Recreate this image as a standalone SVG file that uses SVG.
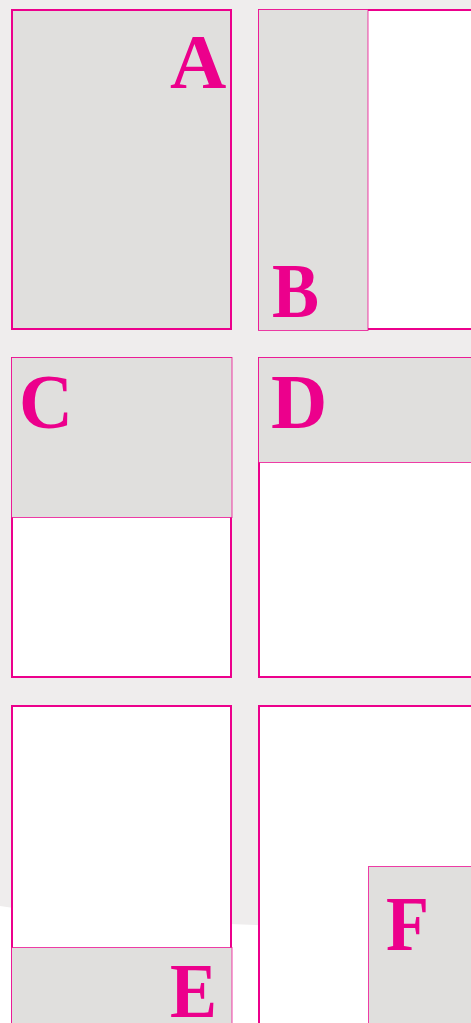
<svg xmlns="http://www.w3.org/2000/svg" width="471" height="1023" viewBox="0 0 471 1023">
<style>
.pg{fill:#ffffff;stroke:#ec008c;stroke-width:2}
.sh{fill:#e0dfdd;stroke:#ec008c;stroke-width:1;stroke-opacity:0.75}
.shA{fill:#e0dfdd;stroke:#ec008c;stroke-width:2}
.lb{font-family:"Liberation Serif","Times New Roman",serif;font-weight:bold;font-size:78px;fill:#ec008c}
</style>
<rect x="0" y="0" width="471" height="1023" fill="#efeded"/>
<path d="M0,906 Q150,928 471,928 L471,1023 L0,1023 Z" fill="#ffffff"/>
<g id="A">
<rect class="shA" x="12" y="10" width="219" height="319"/>
<text class="lb" x="170" y="88">A</text>
</g>
<g id="B">
<rect class="pg" x="259" y="10" width="240" height="319"/>
<rect class="sh" x="258.5" y="9.5" width="109.5" height="321"/>
<text class="lb" x="272" y="317" textLength="47" lengthAdjust="spacingAndGlyphs">B</text>
</g>
<g id="C">
<rect class="pg" x="12" y="358" width="219" height="319"/>
<rect class="sh" x="11.5" y="357.5" width="220.5" height="160"/>
<text class="lb" x="19" y="428" textLength="54" lengthAdjust="spacingAndGlyphs">C</text>
</g>
<g id="D">
<rect class="pg" x="259" y="358" width="240" height="319"/>
<rect class="sh" x="258.5" y="357.5" width="240" height="105"/>
<text class="lb" x="271" y="428">D</text>
</g>
<g id="E">
<rect class="pg" x="12" y="706" width="219" height="330"/>
<rect class="sh" x="11.5" y="947.5" width="220.5" height="100"/>
<text class="lb" x="170" y="1017" textLength="47" lengthAdjust="spacingAndGlyphs">E</text>
</g>
<g id="F">
<rect class="pg" x="259" y="706" width="240" height="330"/>
<rect class="sh" x="368.5" y="866.5" width="120" height="180"/>
<text class="lb" x="386" y="950" textLength="43" lengthAdjust="spacingAndGlyphs">F</text>
</g>
</svg>
